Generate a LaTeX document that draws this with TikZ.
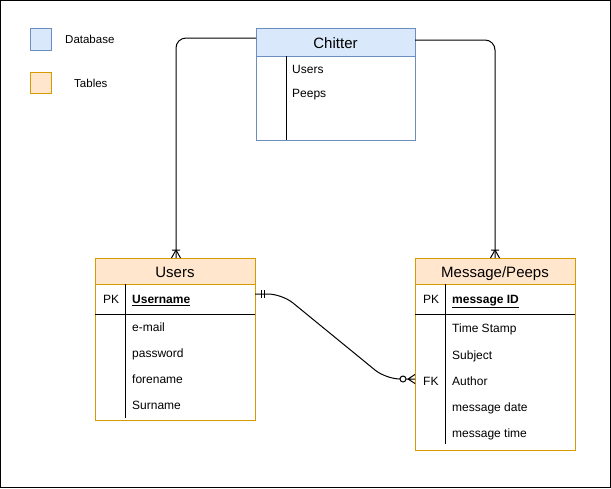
\documentclass[tikz,border=0pt]{standalone}
\usepackage{fontspec}
\setmainfont{Liberation Sans}
\definecolor{dbfill}{HTML}{DAE8FC}
\definecolor{dbline}{HTML}{6C8EBF}
\definecolor{tbfill}{HTML}{FFE6CC}
\definecolor{tbline}{HTML}{D79B00}
\begin{document}
\begin{tikzpicture}[x=1pt,y=-1pt,
  box/.style={rectangle,inner sep=0pt,outer sep=0pt,line width=1pt,anchor=north west},
  dbbox/.style={box,draw=dbline},
  tbbox/.style={box,draw=tbline},
  headfont/.style={font=\fontsize{15}{18}\selectfont,text height=12.6pt,text depth=0pt},
  dbhead/.style={box,draw=dbline,fill=dbfill,headfont},
  tbhead/.style={box,draw=tbline,fill=tbfill,headfont},
  rowtext/.style={inner sep=0pt,anchor=west,font=\fontsize{12}{14}\selectfont,text height=8.6pt,text depth=2.5pt},
  legtext/.style={inner sep=0pt,anchor=west,font=\fontsize{11.5}{14}\selectfont,text height=8.3pt,text depth=2.4pt},
  sep/.style={line width=1pt,black},
  conn/.style={line width=1pt,black}
]
\useasboundingbox (0,0) rectangle (611,488);
\draw[line width=1pt] (0.5,0.5) rectangle (610.5,487.5);

% legend
\node[dbhead,minimum width=21pt,minimum height=22pt] (legdb) at (30,28) {};
\node[legtext] (legdbt) at (65,41) {Database};
\node[tbhead,minimum width=21pt,minimum height=21pt] (legtb) at (30,72) {};
\node[legtext] (legtbt) at (74,85) {Tables};

% Chitter
\node[dbbox,minimum width=159pt,minimum height=112pt] (chit) at (256,28) {};
\node[dbhead,minimum width=159pt,minimum height=28pt] (chithead) at (256,28) {Chitter};
\draw[sep] (286,56) -- (286,140);
\node[rowtext] (c1) at (292,70) {Users};
\node[rowtext] (c2) at (292,94) {Peeps};

% Users
\node[tbbox,minimum width=160pt,minimum height=162pt] (users) at (95,258) {};
\node[tbhead,minimum width=160pt,minimum height=26pt] (usershead) at (95,258) {Users};
\draw[sep] (95,314) -- (255,314);
\draw[sep] (125,284) -- (125,418);
\node[rowtext] (upk) at (103,300.5) {PK};
\node[rowtext] (u0) at (132,300.5) {\underline{\textbf{Username}}};
\node[rowtext] (u1) at (132,328.5) {e-mail};
\node[rowtext] (u2) at (132,354) {password};
\node[rowtext] (u3) at (132,380) {forename};
\node[rowtext] (u4) at (132,406) {Surname};

% Message/Peeps
\node[tbbox,minimum width=160pt,minimum height=192pt] (msg) at (415,258) {};
\node[tbhead,minimum width=160pt,minimum height=26pt] (msghead) at (415,258) {Message/Peeps};
\draw[sep] (415,314) -- (575,314);
\draw[sep] (445,284) -- (445,444);
\node[rowtext] (mpk) at (423,300.5) {PK};
\node[rowtext] (m0) at (452,300.5) {\underline{\textbf{message ID}}};
\node[rowtext] (m1) at (452,329) {Time Stamp};
\node[rowtext] (m2) at (452,356) {Subject};
\node[rowtext] (mfk) at (423,382) {FK};
\node[rowtext] (m3) at (452,382) {Author};
\node[rowtext] (m4) at (452,408) {message date};
\node[rowtext] (m5) at (452,434) {message time};

% connectors Chitter -> tables
\coordinate (cl) at (256,38);
\coordinate (cr) at (415,40);
\coordinate (ut) at (176,258);
\coordinate (mt) at (495,258);
\draw[conn,rounded corners=10pt] (cl) -- (ut |- cl) -- (ut);
\draw[conn,rounded corners=10pt] (cr) -- (mt |- cr) -- (mt);
\draw[conn] (172,250) -- (180,250) (176,250) -- (171.5,258) (176,250) -- (180.5,258);
\draw[conn] (491,250) -- (499,250) (495,250) -- (490.5,258) (495,250) -- (499.5,258);

% relation Users.Username -> Message.Author
\coordinate (rs) at (255,294);
\coordinate (re) at (415,379);
\draw[conn,rounded corners=14pt] (rs) -- (282,294) -- (386,379) -- (400,379);
\draw[conn] (261,290) -- (261,298) (264.5,290) -- (264.5,298);
\draw[conn] (403,379) circle (3pt);
\draw[conn] (406,379) -- (re) (408,379) -- (415,374.5) (408,379) -- (415,383.5);
\end{tikzpicture}
\end{document}
